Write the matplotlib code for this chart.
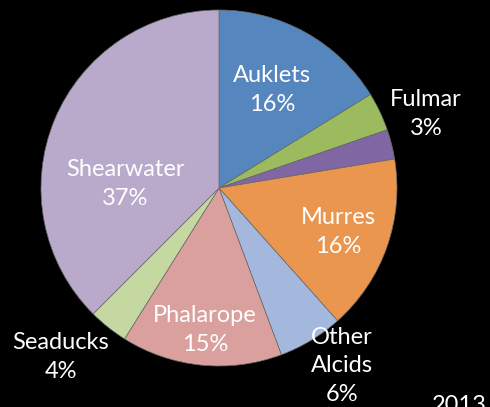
import matplotlib.pyplot as plt

plt.rcParams['font.family'] = ['Lato', 'DejaVu Sans']

# slice shares (%), clockwise from 12 o'clock
species = ["Auklets", "Fulmar", "Other", "Murres", "Other Alcids",
           "Phalarope", "Seaducks", "Shearwater"]
shares = [16.2, 3.5, 2.7, 16.0, 5.9, 14.6, 3.6, 37.5]
labels = ["Auklets\n16%", "Fulmar\n3%", "", "Murres\n16%", "Other\nAlcids\n6%",
          "Phalarope\n15%", "Seaducks\n4%", "Shearwater\n37%"]
colors = ["#5586BE", "#9CBB5E", "#8066A2", "#EA964F", "#A3B8DC",
          "#D9A09E", "#C5D8A2", "#B9AACB"]

W, H = 490, 407
# label centres in pixel coords (x, y from top)
label_pos = [(272, 90), (426, 114), None, (338, 232), (342, 366),
             (205, 330), (61, 357), (125, 184)]

fig = plt.figure(figsize=(W / 100, H / 100), dpi=100, facecolor="black")
ax = fig.add_axes([0, 0, 1, 1])
ax.set_facecolor("black")

ax.pie(shares, colors=colors, startangle=90, counterclock=False,
       center=(219, H - 188), radius=178,
       wedgeprops=dict(edgecolor="#6a6a6a", linewidth=0.5))

for lab, pos in zip(labels, label_pos):
    if pos is None:
        continue
    ax.text(pos[0], H - pos[1], lab, color="white", fontsize=17,
            ha="center", va="center", linespacing=1.45)

ax.text(432, H - 406, "2013", color="white", fontsize=17, ha="left", va="center")

ax.set_xlim(0, W)
ax.set_ylim(0, H)
ax.set_aspect("auto")
ax.axis("off")

fig.savefig("out.png", dpi=100, facecolor="black")
